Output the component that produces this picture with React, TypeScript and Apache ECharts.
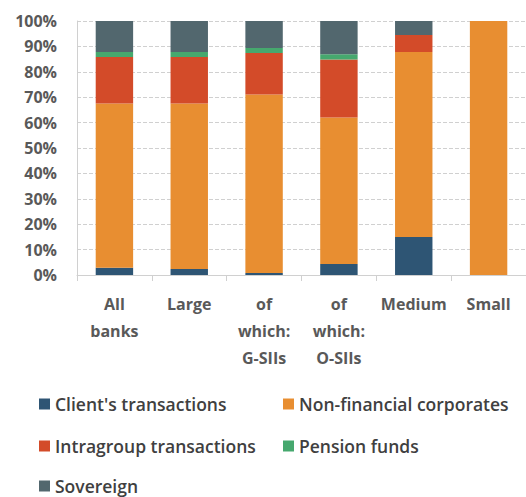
import React, { useEffect, useRef } from "react";
import * as echarts from "echarts";

const categories = ["All\nbanks", "Large", "of\nwhich:\nG-SIIs", "of\nwhich:\nO-SIIs", "Medium", "Small"];
const clientTransactions = [2.9, 2.4, 0.8, 4.3, 15.0, 0];
const nonFinancialCorporates = [64.6, 65.1, 70.3, 57.7, 72.8, 100];
const intragroupTransactions = [18.3, 18.3, 16.3, 22.8, 6.7, 0];
const pensionFunds = [2.0, 2.0, 2.0, 2.1, 0, 0];
const sovereign = [12.2, 12.2, 10.6, 13.1, 5.5, 0];
const yTicks = [0, 10, 20, 30, 40, 50, 60, 70, 80, 90, 100];

const seriesDefs = [
  { name: "Client's transactions", data: clientTransactions, color: "#2E5574" },
  { name: "Non-financial corporates", data: nonFinancialCorporates, color: "#E88E31" },
  { name: "Intragroup transactions", data: intragroupTransactions, color: "#D34B29" },
  { name: "Pension funds", data: pensionFunds, color: "#46A86E" },
  { name: "Sovereign", data: sovereign, color: "#52676E" },
];

const legendPos = [
  { left: 39, top: 395 },
  { left: 283, top: 395 },
  { left: 39, top: 437 },
  { left: 283, top: 437 },
  { left: 39, top: 477 },
];

export default function App() {
  const ref = useRef<HTMLDivElement>(null);
  useEffect(() => {
    if (!ref.current) return;
    const chart = echarts.init(ref.current, null, { renderer: "svg" });
    const font = "'Open Sans', 'Noto Sans', sans-serif";
    chart.setOption({
      animation: false,
      textStyle: { fontFamily: font },
      grid: { left: 77, right: 0, top: 21, bottom: 222, containLabel: false },
      legend: seriesDefs.map((s, i) => ({
        data: [s.name],
        left: legendPos[i].left,
        top: legendPos[i].top,
        padding: 0,
        itemWidth: 11,
        itemHeight: 11,
        icon: "rect",
        itemGap: 6,
        selectedMode: false,
        textStyle: { fontSize: 17.5, lineHeight: 18, color: "#404040", fontFamily: font, fontWeight: 600 },
      })),
      xAxis: {
        type: "category",
        data: categories,
        axisLine: { show: true, lineStyle: { color: "#d0d0d0" } },
        axisTick: { show: true, length: 6, lineStyle: { color: "#d0d0d0" } },
        axisLabel: {
          interval: 0,
          margin: 15,
          fontSize: 16,
          fontWeight: "bold",
          color: "#595959",
          lineHeight: 27,
          fontFamily: font,
        },
      },
      yAxis: {
        type: "value",
        min: 0,
        max: 100,
        interval: 10,
        axisLine: { show: true, lineStyle: { color: "#d0d0d0" } },
        axisTick: { show: false },
        splitLine: { show: true, lineStyle: { color: "#d0d0d0", type: "dashed" } },
        axisLabel: {
          formatter: (v: number) => (yTicks.includes(v) ? v + "%" : ""),
          fontSize: 16,
          fontWeight: "bold",
          color: "#595959",
          margin: 20,
          fontFamily: font,
        },
      },
      series: seriesDefs.map((s) => ({
        name: s.name,
        type: "bar",
        stack: "total",
        data: s.data,
        barWidth: "50%",
        itemStyle: { color: s.color },
      })),
    });
    return () => chart.dispose();
  }, []);
  return (
    <div
      ref={ref}
      style={{ position: "absolute", left: 0, top: 0, width: 526, height: 497 }}
    />
  );
}
